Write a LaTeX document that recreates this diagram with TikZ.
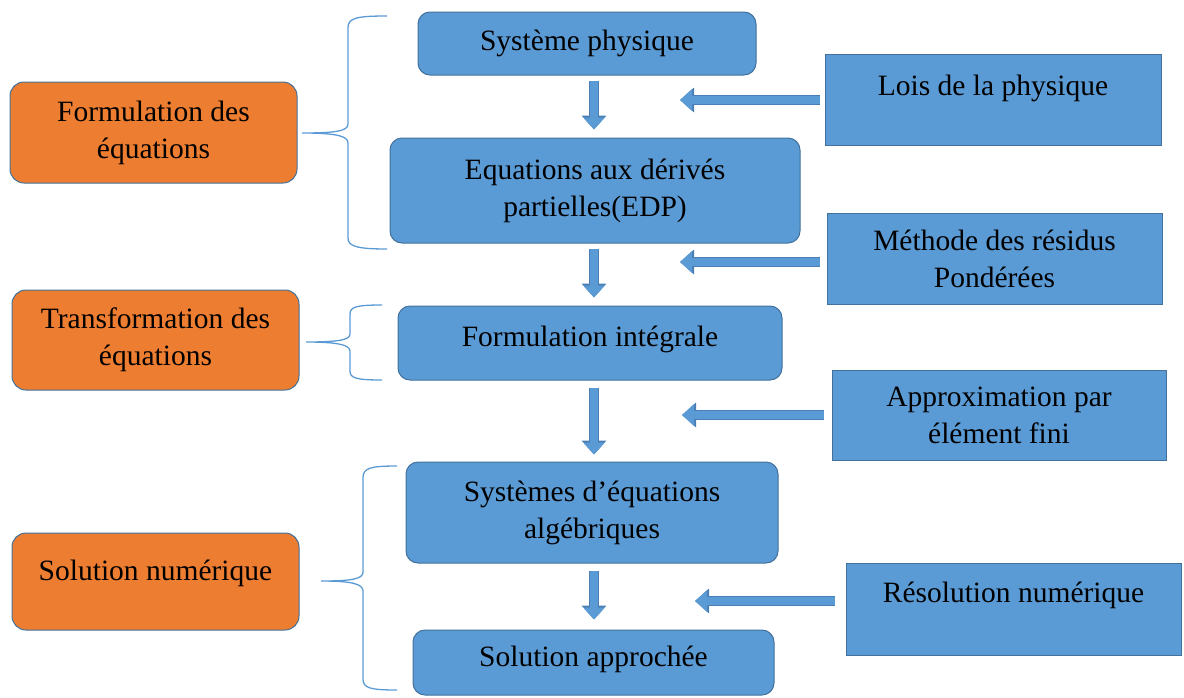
\documentclass[tikz,border=0pt]{standalone}
\usepackage{fontspec}
\setmainfont{Liberation Serif}
\usetikzlibrary{arrows.meta}
\definecolor{boxblue}{HTML}{5B9BD5}
\definecolor{edgeblue}{HTML}{41719C}
\definecolor{boxorange}{HTML}{ED7D31}
\definecolor{arrowedge}{HTML}{4A7EB5}
\newcommand{\upby}[2]{\raisebox{#1}[\height][\depth]{#2}}
\begin{document}
\begin{tikzpicture}[x=1pt,y=-1pt,
  base/.style={draw=edgeblue, line width=1pt, align=center, inner sep=0pt,
    font=\fontsize{29.5}{37}\selectfont, text=black},
  roundbox/.style={base, fill=boxblue, rounded corners=12pt},
  sqbox/.style={base, fill=boxblue},
  orangebox/.style={base, fill=boxorange, rounded corners=14pt},
  blockarrow/.style={boxblue, line width=8pt, -{Triangle[width=21pt,length=12pt]},
    preaction={draw=arrowedge, line width=9.5pt, -{Triangle[width=24pt,length=14pt]}}},
  bracestyle/.style={draw=boxblue, line width=1.3pt}]
\useasboundingbox (0,0) rectangle (1184,697);

% main column
\node[roundbox, minimum width=338pt, minimum height=63pt] (sys) at (587,43.5) {Système physique};
\node[roundbox, minimum width=410pt, minimum height=105pt] (edp) at (595,190.5) {Equations aux dérivés\\partielles(EDP)};
\node[roundbox, minimum width=384pt, minimum height=74pt] (fint) at (590,343) {\upby{4pt}{Formulation intégrale}};
\node[roundbox, minimum width=372pt, minimum height=101pt] (salg) at (592,512.5) {Systèmes d’équations\\algébriques};
\node[roundbox, minimum width=361pt, minimum height=65pt] (sapp) at (593.5,662.5) {\upby{3pt}{Solution approchée}};

% right column
\node[sqbox, minimum width=336pt, minimum height=91pt] (lois) at (993,99.5) {\upby{11pt}{Lois de la physique}};
\node[sqbox, minimum width=335pt, minimum height=91pt] (mres) at (994.5,258.5) {Méthode des résidus\\Pondérées};
\node[sqbox, minimum width=334pt, minimum height=90pt] (appr) at (999,415) {Approximation par\\élément fini};
\node[sqbox, minimum width=335pt, minimum height=92pt] (reso) at (1013.5,609) {\upby{14pt}{Résolution numérique}};

% left column
\node[orangebox, minimum width=287pt, minimum height=101pt] (of1) at (153.5,132.5) {Formulation des\\équations};
\node[orangebox, minimum width=287pt, minimum height=100pt] (of2) at (155.5,340) {Transformation des\\équations};
\node[orangebox, minimum width=287pt, minimum height=97pt] (of3) at (155.5,581.5) {\upby{8pt}{Solution numérique}};

% down arrows
\coordinate (col) at (594,0);
\draw[blockarrow, shorten <=5pt, shorten >=8pt] (sys.south -| col) -- (edp.north -| col);
\draw[blockarrow, shorten <=5pt, shorten >=8pt] (edp.south -| col) -- (fint.north -| col);
\draw[blockarrow, shorten <=7pt, shorten >=7pt] (fint.south -| col) -- (salg.north -| col);
\draw[blockarrow, shorten <=7pt, shorten >=10pt] (salg.south -| col) -- (sapp.north -| col);

% left arrows
\coordinate (t1) at (680,100);
\coordinate (t2) at (680,262);
\coordinate (t3) at (682,415);
\coordinate (t4) at (695,601);
\draw[blockarrow, shorten <=5pt] (t1 -| lois.west) -- (t1);
\draw[blockarrow, shorten <=7pt] (t2 -| mres.west) -- (t2);
\draw[blockarrow, shorten <=8pt] (t3 -| appr.west) -- (t3);
\draw[blockarrow, shorten <=11pt] (t4 -| reso.west) -- (t4);

% braces
\draw[bracestyle] (387,16) .. controls (356,16) and (348,18) .. (348,28) -- (348,124)
  .. controls (348,131) and (336,133) .. (302,133)
  .. controls (336,133) and (348,136) .. (348,143) -- (348,238)
  .. controls (348,246) and (356,249) .. (387,249);
\draw[bracestyle] (382,305) .. controls (356,305) and (350,307) .. (350,314) -- (350,334)
  .. controls (350,340) and (338,342) .. (306,342)
  .. controls (338,342) and (350,345) .. (350,351) -- (350,371)
  .. controls (350,378) and (356,380) .. (382,380);
\draw[bracestyle] (397,466) .. controls (370,466) and (363,468) .. (363,478) -- (363,572)
  .. controls (363,579) and (352,581) .. (321,581)
  .. controls (352,581) and (363,584) .. (363,591) -- (363,679)
  .. controls (363,688) and (370,690) .. (397,690);
\end{tikzpicture}
\end{document}
